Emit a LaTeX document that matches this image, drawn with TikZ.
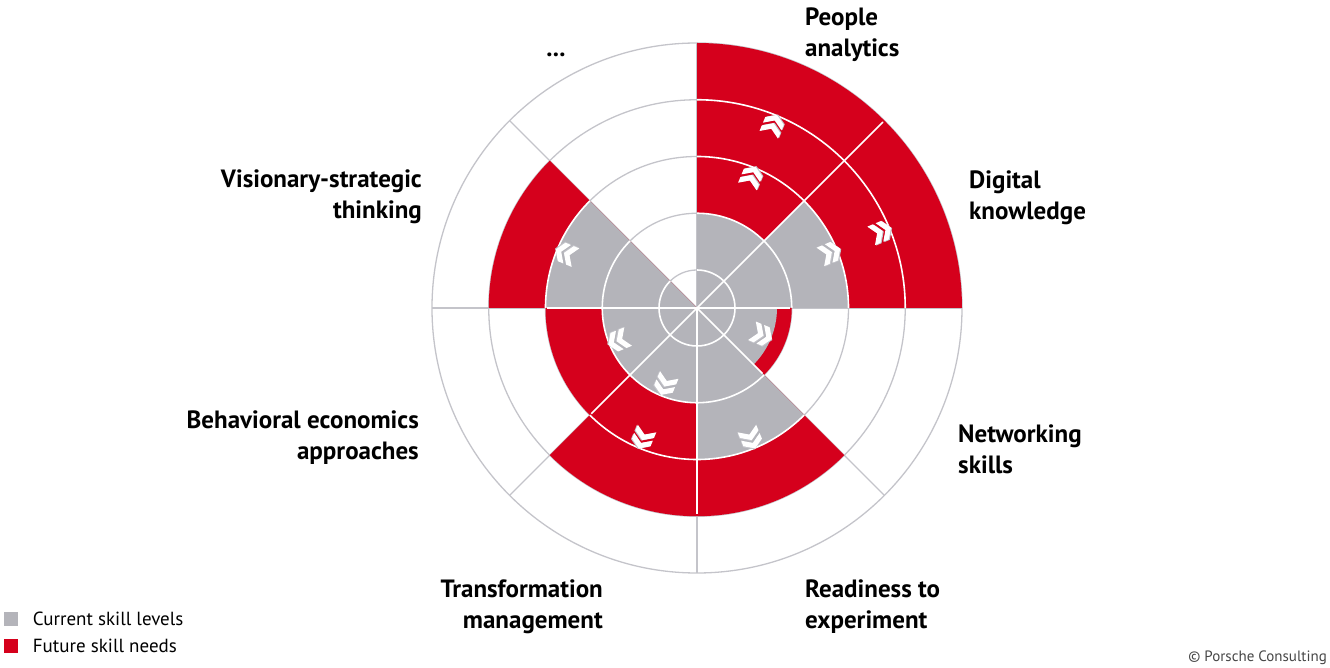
\documentclass[tikz,border=0pt]{standalone}
\usepackage{fontspec}
\setmainfont{PT Sans}
\usetikzlibrary{positioning}
\definecolor{pred}{RGB}{213,0,28}
\definecolor{pgrey}{RGB}{180,180,186}
\definecolor{pline}{RGB}{196,196,202}
\definecolor{ptext}{RGB}{70,70,70}
\tikzset{ring/.style={draw=pline, line width=1.3pt},
         ringw/.style={draw=white, line width=1.6pt},
         futr/.style={fill=pred},
         curr/.style={fill=pgrey},
         lbl/.style={font=\fontsize{25}{31}\selectfont\bfseries, inner sep=0pt},
         key/.style={minimum size=14pt, inner sep=0pt},
         keytext/.style={font=\fontsize{19}{22}\selectfont, inner sep=0pt},
         dblchev/.pic={
            \foreach \s in {1,10}
              \fill[pline, shift={(\s+0.8,-0.8)}] (0,0) -- (-6.5,10) -- (-12.5,10) -- (-6,0) -- (-12.5,-10) -- (-6.5,-10) -- cycle;
            \foreach \s in {1,10}
              \fill[white, shift={(\s,0)}] (0,0) -- (-6.5,10) -- (-12.5,10) -- (-6,0) -- (-12.5,-10) -- (-6.5,-10) -- cycle;
         }}
\begin{document}
\begin{tikzpicture}[x=1pt, y=1pt]
    \useasboundingbox (-697,-360) rectangle (633,308);
    % grid
    \foreach \r in {38,94.75,151.5,208.25,265}
        \draw[ring] (0,0) circle[radius=\r];
    \foreach \a in {0,45,...,315}
        \draw[ring] (0,0) -- (\a:265);

    % start angle / current level / future need
    \foreach \a/\c/\f in {45/94.75/265, 0/151.5/265, -45/80/94.75, -90/151.5/208.25,
                          -135/94.75/208.25, -180/94.75/151.5, 135/151.5/208.25}{
        \fill[futr] (0,0) -- (\a:\f) arc[start angle=\a, delta angle=45, radius=\f] -- cycle;
        \fill[curr] (0,0) -- (\a:\c) arc[start angle=\a, delta angle=45, radius=\c] -- cycle;
        \begin{scope}
            \clip (0,0) -- ({\a}:{\f-2}) arc[start angle=\a, delta angle=45, radius=\f-2] -- cycle;
            \foreach \r in {38,94.75,151.5,208.25}
                \draw[ringw] (0,0) circle[radius=\r];
        \end{scope}
    }
    \foreach \a/\m in {0/94.75, 45/265, 180/151.5, 225/151.5, 270/208.25, 315/94.75}
        \draw[ringw] (0,0) -- ({\a}:{\m-2});

    % arrows
    \foreach \a/\r in {67.5/199, 67.5/143, 22.5/145, 22.5/200, -22.5/71, -67.5/142,
                       -112.5/84, -112.5/142, -157.5/86, 157.5/143}
        \pic[rotate=\a] at (\a:\r) {dblchev};

    \node[lbl, anchor=base west, align=left] (people) at (108,251) {People\\analytics};
    \node[lbl, anchor=base west, align=left] (digital) at (272,88) {Digital\\knowledge};
    \node[lbl, anchor=base west, align=left] (network) at (261,-166) {Networking\\skills};
    \node[lbl, anchor=base west, align=left] (ready) at (108,-320) {Readiness to\\experiment};
    \node[lbl, anchor=base east, align=right] (transf) at (-94,-320) {Transformation\\management};
    \node[lbl, anchor=base east, align=right] (behav) at (-278,-152) {Behavioral economics\\approaches};
    \node[lbl, anchor=base east, align=right] (vision) at (-275,89) {Visionary-strategic\\thinking};
    \node[lbl, anchor=base] (more) at (-141,251) {...};

    \node[key, curr] (kcur) at (-685.5,-311) {};
    \node[keytext, right=14pt of kcur] (tcur) {Current skill levels};
    \node[key, futr] (kfut) at (-685.5,-338) {};
    \node[keytext, right=14pt of kfut] (tfut) {Future skill needs};

    \node[font=\fontsize{15}{18}\selectfont, text=ptext, inner sep=0pt, anchor=base east] (copy) at (630,-353) {\textcopyright{} Porsche Consulting};
\end{tikzpicture}
\end{document}
